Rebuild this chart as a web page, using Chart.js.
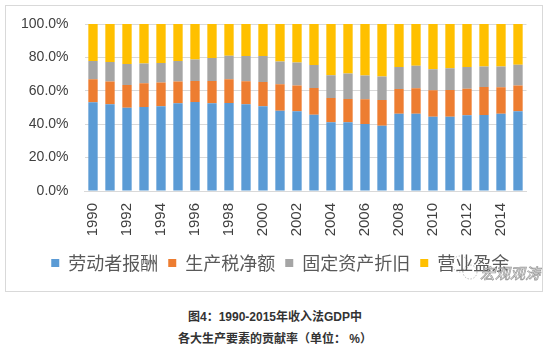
<!DOCTYPE html>
<html>
<head>
<meta charset="utf-8">
<title>收入法GDP构成</title>
<script src="https://cdn.jsdelivr.net/npm/chart.js@4.4.1/dist/chart.umd.min.js"></script>
<style>
  body { margin: 0; background: #fff; width: 550px; height: 348px; position: relative; overflow: hidden; }
  #box { position: absolute; left: 5px; top: 5px; width: 538px; height: 287px; border: 1px solid #d9d9d9; box-sizing: border-box; }
  #box canvas { display: block; }
  .cap { position: absolute; left: 0; width: 550px; text-align: center; font-family: "Liberation Sans", "Noto Sans CJK SC", sans-serif; font-weight: bold; font-size: 12px; color: #333; }
</style>
</head>
<body>
<div id="box"><canvas id="gdp-chart" width="536" height="285" style="width:536px;height:285px"></canvas></div>
<div class="cap" style="top:307px">图4：1990-2015年收入法GDP中</div>
<div class="cap" style="top:329px">各大生产要素的贡献率（单位： %）</div>
<script>
var years = ['1990', '1991', '1992', '1993', '1994', '1995', '1996', '1997', '1998', '1999',
  '2000', '2001', '2002', '2003', '2004', '2005', '2006', '2007', '2008', '2009',
  '2010', '2011', '2012', '2013', '2014', '2015'];

// 劳动者报酬
var labour = [53.1, 51.9, 49.9, 50.3, 50.7, 52.5, 53.3, 52.5, 52.7, 51.9,
  50.7, 48.1, 47.7, 45.7, 41.1, 41.1, 40.1, 39.1, 46.3, 46.3,
  44.5, 44.5, 45.3, 45.5, 46.3, 47.7];
// 生产税净额
var taxes = [13.8, 13.6, 13.6, 14.2, 14.2, 13.0, 12.6, 13.4, 14.2, 13.8,
  14.6, 15.8, 15.4, 16.0, 14.6, 14.0, 14.8, 15.4, 14.8, 15.2,
  15.8, 16.0, 16.0, 16.8, 15.8, 15.4];
// 固定资产折旧
var depreciation = [10.9, 11.7, 12.5, 11.9, 11.7, 12.3, 12.9, 13.7, 14.1, 15.1,
  15.5, 13.7, 13.9, 13.7, 13.6, 15.2, 14.2, 14.0, 13.2, 13.5,
  12.6, 13.0, 13.0, 12.2, 12.4, 12.5];
// 营业盈余
var surplus = [22.2, 22.8, 24.0, 23.6, 23.4, 22.2, 21.2, 20.4, 19.0, 19.2,
  19.2, 22.4, 23.0, 24.6, 30.7, 29.7, 30.9, 31.5, 25.7, 25.0,
  27.1, 26.5, 25.7, 25.5, 25.5, 24.4];

var yTicks = [0, 20, 40, 60, 80, 100];

function serie(label, data, colour) {
  return {
    label: label,
    data: data,
    backgroundColor: colour,
    borderWidth: 0,
    barPercentage: 0.55,
    categoryPercentage: 1
  };
}

// little account stamp in the lower right corner
var stamp = {
  id: 'stamp',
  afterDraw: function (chart) {
    var ctx = chart.ctx;
    ctx.save();
    ctx.strokeStyle = 'rgba(120,120,120,0.6)';
    ctx.lineWidth = 0.8;
    ctx.setLineDash([1.5, 1.5]);
    ctx.beginPath();
    ctx.arc(454, 258, 8, 0, Math.PI * 2);
    ctx.stroke();
    ctx.beginPath();
    ctx.arc(464, 266, 7, 0, Math.PI * 2);
    ctx.stroke();
    ctx.setLineDash([]);
    ctx.font = 'italic 15px "Noto Sans CJK SC"';
    ctx.textBaseline = 'middle';
    ctx.fillStyle = 'rgba(255,255,255,0.85)';
    ctx.fillText('宏观观涛', 474, 267);
    ctx.strokeStyle = 'rgba(110,110,110,0.7)';
    ctx.lineWidth = 0.7;
    ctx.strokeText('宏观观涛', 474, 267);
    ctx.restore();
  }
};

// legend sits a little right of the canvas centre
var nudgeLegend = {
  id: 'nudgeLegend',
  afterLayout: function (chart) {
    chart.legend.left += 14;
    chart.legend.right += 14;
  }
};

var chart = new Chart(document.getElementById('gdp-chart'), {
  type: 'bar',
  data: {
    labels: years,
    datasets: [
      serie('劳动者报酬', labour, '#5b9bd5'),
      serie('生产税净额', taxes, '#ed7d31'),
      serie('固定资产折旧', depreciation, '#a5a5a5'),
      serie('营业盈余', surplus, '#ffc000')
    ]
  },
  plugins: [nudgeLegend, stamp],
  options: {
    responsive: false,
    animation: false,
    layout: { padding: { top: 18, right: 15.5, left: 0, bottom: 9 } },
    plugins: {
      tooltip: { enabled: false },
      legend: {
        position: 'bottom',
        labels: {
          boxWidth: 8,
          boxHeight: 8,
          padding: 10,
          color: '#595959',
          font: { family: '"Noto Sans CJK SC"', size: 18 }
        }
      }
    },
    scales: {
      x: {
        stacked: true,
        grid: { display: false, drawTicks: false },
        border: { color: '#d9d9d9' },
        ticks: {
          autoSkip: false,
          minRotation: 90,
          maxRotation: 90,
          padding: 12,
          color: '#404040',
          font: { family: '"Liberation Sans"', size: 15 },
          callback: function (v, i) { return i % 2 === 0 ? years[i] : ''; }
        },
        afterFit: function (s) {
          s.height = 53;
          s.paddingLeft = 0;
          s.paddingRight = 0;
        }
      },
      y: {
        stacked: true,
        min: 0,
        max: 100,
        grid: { color: '#d9d9d9', drawTicks: false },
        border: { display: false },
        afterBuildTicks: function (s) {
          s.ticks = yTicks.map(function (v) { return { value: v }; });
        },
        ticks: {
          padding: 16,
          color: '#404040',
          font: { family: '"Liberation Sans"', size: 14 },
          callback: function (v) { return v.toFixed(1) + '%'; }
        },
        afterFit: function (s) {
          s.width = 78.5;
          s.paddingTop = 0;
          s.paddingBottom = 0;
        }
      }
    }
  }
});
</script>
</body>
</html>
